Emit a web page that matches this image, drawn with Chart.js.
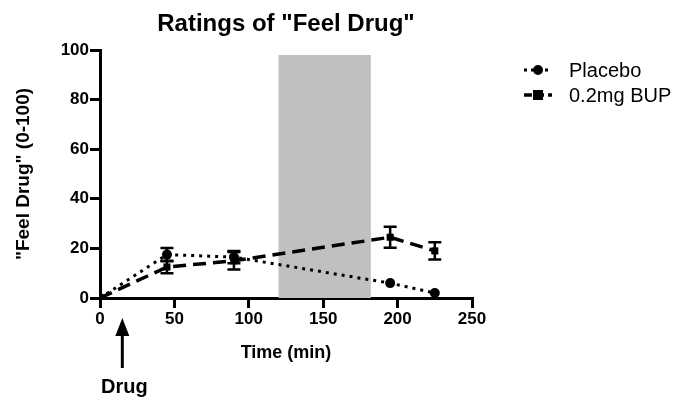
<!DOCTYPE html>
<html>
<head>
<meta charset="utf-8">
<script src="https://cdn.jsdelivr.net/npm/chart.js@4.4.0/dist/chart.umd.min.js"></script>
<style>
  html, body { margin: 0; padding: 0; background: #fff; }
  #wrap { width: 676px; height: 400px; position: relative; }
</style>
</head>
<body>
<div id="wrap"><canvas id="chart" width="676" height="400"></canvas></div>
<script>
// Data
const timePoints   = [0, 45, 90, 195, 225];
const placeboMean  = [0, 17.5, 16.5, 6, 2];
const placeboErr   = [0, 2.7, 2.5, 0, 0];
const bupMean      = [0, 12.5, 15, 24.5, 19];
const bupErr       = [0, 2.5, 3.5, 4.2, 3.5];
const seriesNames  = ['Placebo', '0.2mg BUP'];
const xTicks       = [0, 50, 100, 150, 200, 250];
const yTicks       = [0, 20, 40, 60, 80, 100];
const shadeRange   = [120, 182];   // minutes
const shadeTop     = 98;
const drugTime     = 15;

const FONT = "'Liberation Sans', Arial, sans-serif";

const toPoints = (xs, ys) => xs.map((x, i) => ({ x, y: ys[i] }));

// grey session window behind the lines
const shadePlugin = {
    id: 'shade',
    beforeDatasetsDraw(chart) {
        const { ctx, scales: { x, y } } = chart;
        const x0 = x.getPixelForValue(shadeRange[0]);
        const x1 = x.getPixelForValue(shadeRange[1]);
        const y0 = y.getPixelForValue(shadeTop);
        const y1 = y.getPixelForValue(0);
        ctx.save();
        ctx.fillStyle = '#c0c0c0';
        ctx.fillRect(x0, y0, x1 - x0, y1 - y0);
        ctx.restore();
    }
};

// SEM bars
const errorBarPlugin = {
    id: 'errorBars',
    afterDatasetsDraw(chart) {
        const { ctx, scales: { y } } = chart;
        chart.data.datasets.forEach((ds, di) => {
            const meta = chart.getDatasetMeta(di);
            ctx.save();
            ctx.strokeStyle = '#000';
            ctx.lineWidth = 2.5;
            meta.data.forEach((pt, i) => {
                const e = ds.errors[i];
                if (!e) return;
                const v = ds.data[i].y;
                const top = y.getPixelForValue(v + e);
                const bot = y.getPixelForValue(v - e);
                const cx = pt.x;
                ctx.beginPath();
                ctx.moveTo(cx, top); ctx.lineTo(cx, bot);
                ctx.moveTo(cx - 6.5, top); ctx.lineTo(cx + 6.5, top);
                ctx.moveTo(cx - 6.5, bot); ctx.lineTo(cx + 6.5, bot);
                ctx.stroke();
            });
            ctx.restore();
        });
    }
};

// title, y title, legend, drug arrow
const annotatePlugin = {
    id: 'annotate',
    afterDraw(chart) {
        const { ctx, chartArea: area, scales: { x } } = chart;
        ctx.save();
        ctx.fillStyle = '#000';
        ctx.textAlign = 'center';
        ctx.textBaseline = 'middle';

        ctx.font = 'bold 24px ' + FONT;
        ctx.fillText('Ratings of "Feel Drug"', (area.left + area.right) / 2, 24);

        ctx.save();
        ctx.translate(24, (area.top + area.bottom) / 2);
        ctx.rotate(-Math.PI / 2);
        ctx.font = 'bold 19px ' + FONT;
        ctx.fillText('"Feel Drug" (0-100)', 0, 0);
        ctx.restore();

        // legend
        ctx.textAlign = 'left';
        ctx.font = '20px ' + FONT;
        chart.data.datasets.forEach((ds, i) => {
            const ly = 70 + i * 25;
            ctx.save();
            ctx.strokeStyle = '#000';
            ctx.lineWidth = ds.borderWidth;
            ctx.setLineDash(i === 0 ? [3, 4] : [8, 4]);
            ctx.beginPath();
            ctx.moveTo(524, ly); ctx.lineTo(552, ly);
            ctx.stroke();
            ctx.restore();
            ctx.beginPath();
            if (ds.pointStyle === 'circle') {
                ctx.arc(538, ly, 5, 0, Math.PI * 2);
            } else {
                ctx.rect(533, ly - 5, 10, 10);
            }
            ctx.fill();
            ctx.fillText(ds.label, 569, ly + 1);
        });

        // drug arrow
        const ax = x.getPixelForValue(drugTime);
        ctx.strokeStyle = '#000';
        ctx.lineWidth = 3;
        ctx.beginPath();
        ctx.moveTo(ax, 368); ctx.lineTo(ax, 330);
        ctx.stroke();
        ctx.beginPath();
        ctx.moveTo(ax, 318); ctx.lineTo(ax - 7, 336); ctx.lineTo(ax + 7, 336);
        ctx.closePath();
        ctx.fill();
        ctx.textAlign = 'center';
        ctx.font = 'bold 20px ' + FONT;
        ctx.fillText('Drug', ax + 2, 387);
        ctx.restore();
    }
};

const axisCommon = {
    type: 'linear',
    border: { display: true, width: 3, color: '#000' },
    grid: { display: true, drawOnChartArea: false, drawTicks: true, tickLength: 10, tickWidth: 3, tickColor: '#000', lineWidth: 3 },
    ticks: { color: '#000', font: { family: FONT, size: 17, weight: 'bold' }, padding: 1 }
};

new Chart(document.getElementById('chart'), {
    type: 'line',
    data: {
        datasets: [
            {
                label: seriesNames[0],
                data: toPoints(timePoints, placeboMean),
                errors: placeboErr,
                borderColor: '#000',
                backgroundColor: '#000',
                borderWidth: 3,
                borderDash: [3, 5],
                pointStyle: 'circle',
                pointRadius: 5,
                pointBorderWidth: 0,
                tension: 0
            },
            {
                label: seriesNames[1],
                data: toPoints(timePoints, bupMean),
                errors: bupErr,
                borderColor: '#000',
                backgroundColor: '#000',
                borderWidth: 3.5,
                borderDash: [13, 7],
                pointStyle: 'rect',
                pointRadius: 5,
                pointBorderWidth: 0,
                tension: 0
            }
        ]
    },
    options: {
        responsive: false,
        animation: false,
        layout: { padding: { left: 0, top: 50, right: 204, bottom: 0 } },
        plugins: {
            legend: { display: false },
            title: { display: false },
            tooltip: { enabled: false }
        },
        scales: {
            x: {
                ...axisCommon,
                min: 0, max: 250,
                afterFit: s => { s.height = 102; },
                afterBuildTicks: s => { s.ticks = xTicks.map(v => ({ value: v })); },
                title: { display: true, text: 'Time (min)', color: '#000', font: { family: FONT, size: 18, weight: 'bold' }, padding: { top: 0, bottom: 36 } }
            },
            y: {
                ...axisCommon,
                min: 0, max: 100,
                afterFit: s => { s.width = 100; },
                afterBuildTicks: s => { s.ticks = yTicks.map(v => ({ value: v })); }
            }
        }
    },
    plugins: [shadePlugin, errorBarPlugin, annotatePlugin]
});
</script>
</body>
</html>
